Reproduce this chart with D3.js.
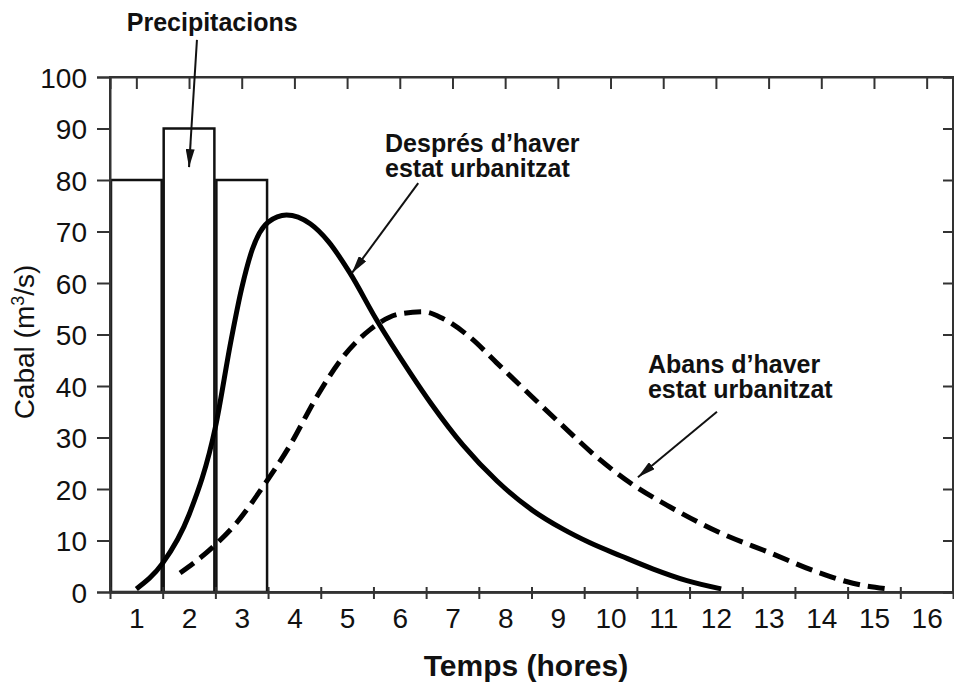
<!DOCTYPE html>
<html lang="ca">
<head>
<meta charset="UTF-8">
<title>Cabal abans i després d'urbanitzar</title>
<script src="https://d3js.org/d3.v7.min.js"></script>
<style>
  body { margin: 0; background: #fff; }
  text { font-family: "Liberation Sans", Arial, sans-serif; fill: #111; }
</style>
</head>
<body>
<svg width="954" height="691"></svg>
<script>
// Data
var hourLabels = [1, 2, 3, 4, 5, 6, 7, 8, 9, 10, 11, 12, 13, 14, 15, 16];
var yTicks = [0, 10, 20, 30, 40, 50, 60, 70, 80, 90, 100];

// rainfall bars (precipitacions)
var rainHours = [1, 2, 3];
var rainValues = [80, 90, 80];

// hydrograph after urbanisation (solid)
var afterT = [1.0, 1.5, 2.0, 2.5, 2.8, 3.0, 3.2, 3.5, 3.85, 4.3, 4.65, 5.05, 5.55, 6.2, 6.6, 7.2, 7.85, 8.5, 9.1, 9.6, 10.2, 10.8, 11.45, 12.1];
var afterQ = [0.6, 5.6, 15, 32, 49, 59, 66.5, 71.8, 73.2, 71.5, 68, 62, 53, 42.5, 36.5, 28.5, 21.5, 16, 12.2, 9.6, 7.0, 4.5, 2.2, 0.6];

// hydrograph before urbanisation (dashed)
var beforeT = [1.83, 2.45, 2.9, 3.4, 3.9, 4.43, 4.92, 5.43, 6.0, 6.45, 6.8, 7.33, 7.84, 8.47, 9.1, 9.74, 10.37, 11.13, 12.08, 13.03, 13.97, 14.6, 15.25];
var beforeQ = [3.7, 8.7, 13.4, 20.4, 28.2, 38, 45.6, 50.9, 54, 54.4, 53.2, 49.5, 44.5, 38.3, 32.2, 26.2, 21.2, 16.5, 11.5, 7.6, 3.7, 1.7, 0.6];

var svg = d3.select("svg");
var plotL = 110, plotR = 953, plotT = 77, plotB = 592;

var x = d3.scaleLinear().domain([0.5, 16.5]).range([plotL, plotR]);
var y = d3.scaleLinear().domain([0, 100]).range([plotB, plotT]);

var edges = d3.range(1.5, 16.5, 1);

// arrow head
svg.append("defs").append("marker")
    .attr("id", "head")
    .attr("markerUnits", "userSpaceOnUse")
    .attr("viewBox", "0 0 18 9")
    .attr("markerWidth", 18).attr("markerHeight", 9)
    .attr("refX", 18).attr("refY", 4.5)
    .attr("orient", "auto")
  .append("path")
    .attr("d", "M0,0 L18,4.5 L0,9 Z")
    .attr("fill", "#111");

// rainfall bars
svg.selectAll("rect.rain")
    .data(rainHours)
    .enter().append("rect")
    .attr("class", "rain")
    .attr("x", d => x(d - 0.5) + 1)
    .attr("width", d => x(d + 0.5) - x(d - 0.5) - 2)
    .attr("y", (d, i) => y(rainValues[i]))
    .attr("height", (d, i) => y(0) - y(rainValues[i]))
    .attr("fill", "none")
    .attr("stroke", "#111")
    .attr("stroke-width", 2.5);

// frame
svg.append("rect")
    .attr("x", plotL).attr("y", plotT)
    .attr("width", plotR - plotL).attr("height", plotB - plotT)
    .attr("fill", "none").attr("stroke", "#333").attr("stroke-width", 2);

// left axis with labels
var yAxis = svg.append("g")
    .attr("transform", `translate(${plotL},0)`)
    .call(d3.axisLeft(y).tickValues(yTicks).tickSize(13).tickPadding(10));
yAxis.selectAll("text").style("font-size", "28px").attr("dy", "0.36em");

// right ticks, inward
svg.append("g")
    .attr("transform", `translate(${plotR},0)`)
    .call(d3.axisLeft(y).tickValues(yTicks).tickSize(10).tickFormat(""));

// bottom labels at hour centres
var xLab = svg.append("g")
    .attr("transform", `translate(0,${plotB})`)
    .call(d3.axisBottom(x).tickValues(hourLabels).tickSize(0).tickPadding(16));
xLab.selectAll("text").style("font-size", "28px").attr("dy", "0.71em");

// bottom ticks at hour boundaries, crossing the axis
svg.append("g")
    .attr("transform", `translate(0,${plotB})`)
    .call(d3.axisBottom(x).tickValues(edges).tickSize(7).tickFormat(""));
svg.append("g")
    .attr("transform", `translate(0,${plotB})`)
    .call(d3.axisTop(x).tickValues(edges).tickSize(5).tickFormat(""));

// top ticks, inward, at hour centres
svg.append("g")
    .attr("transform", `translate(0,${plotT})`)
    .call(d3.axisBottom(x).tickValues(hourLabels).tickSize(12).tickFormat(""));

svg.selectAll(".domain").attr("stroke", "#333").attr("stroke-width", 2);
svg.selectAll(".tick line").attr("stroke", "#333").attr("stroke-width", 2);

// curves
var line = d3.line()
    .x(d => x(d[0]))
    .y(d => y(d[1]))
    .curve(d3.curveMonotoneX);

svg.append("path")
    .datum(afterT.map((t, i) => [t, afterQ[i]]))
    .attr("d", line)
    .attr("fill", "none")
    .attr("stroke", "#000")
    .attr("stroke-width", 5);

svg.append("path")
    .datum(beforeT.map((t, i) => [t, beforeQ[i]]))
    .attr("d", line)
    .attr("fill", "none")
    .attr("stroke", "#000")
    .attr("stroke-width", 5)
    .attr("stroke-dasharray", "17,8");

// annotations (positions in data units)
var notes = [
  { lines: ["Precipitacions"], tx: 2.44, ty: 108.9, anchor: "middle", from: [2.15, 107.2], to: [2.0, 82.5] },
  { lines: ["Després d’haver", "estat urbanitzat"], tx: 5.72, ty: 85.4, anchor: "start", from: [6.35, 79.4], to: [5.09, 61.9] },
  { lines: ["Abans d’haver", "estat urbanitzat"], tx: 10.71, ty: 42.5, anchor: "start", from: [12.02, 35], to: [10.52, 22.3] }
];

notes.forEach(n => {
  var t = svg.append("text")
      .attr("x", x(n.tx))
      .attr("y", y(n.ty))
      .attr("text-anchor", n.anchor)
      .style("font-size", "25px")
      .style("font-weight", "bold");
  n.lines.forEach((s, i) => {
    t.append("tspan").attr("x", x(n.tx)).attr("dy", i ? 25 : 0).text(s);
  });
  svg.append("line")
      .attr("x1", x(n.from[0])).attr("y1", y(n.from[1]))
      .attr("x2", x(n.to[0])).attr("y2", y(n.to[1]))
      .attr("stroke", "#111").attr("stroke-width", 2)
      .attr("marker-end", "url(#head)");
});

// axis titles
var yt = svg.append("text")
    .attr("transform", `translate(34,342) rotate(-90)`)
    .attr("text-anchor", "middle")
    .style("font-size", "28px");
yt.append("tspan").text("Cabal (m");
yt.append("tspan").attr("baseline-shift", "super").style("font-size", "18px").text("3");
yt.append("tspan").text("/s)");

svg.append("text")
    .attr("x", 526)
    .attr("y", 676)
    .attr("text-anchor", "middle")
    .style("font-size", "30px")
    .style("font-weight", "bold")
    .text("Temps (hores)");
</script>
</body>
</html>
